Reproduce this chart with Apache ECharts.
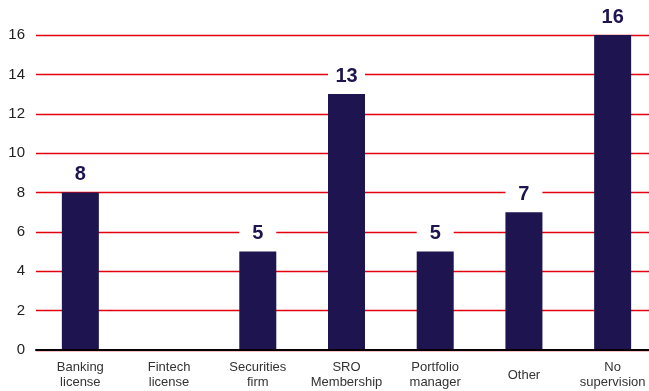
<!DOCTYPE html>
<html>
<head>
<meta charset="utf-8">
<script src="https://cdn.jsdelivr.net/npm/echarts@6/dist/echarts.min.js"></script>
<style>
  html, body { margin: 0; padding: 0; background: #fff; }
  #chart { width: 649px; height: 391px; }
</style>
</head>
<body>
<div id="chart"></div>
<script>
// Categories of supervision and the number of entities in each
const categories = ['Banking\nlicense', 'Fintech\nlicense', 'Securities\nfirm', 'SRO\nMembership', 'Portfolio\nmanager', 'Other', 'No\nsupervision'];
const counts = [8, 0, 5, 13, 5, 7, 16];
const yTicks = { min: 0, max: 16, interval: 2 };

const navy = '#1e1450';
const chart = echarts.init(document.getElementById('chart'), null, { renderer: 'canvas' });

chart.setOption({
  animation: false,
  backgroundColor: '#ffffff',
  grid: { left: 36, top: 35, width: 621, height: 315, containLabel: false, outerBoundsMode: 'none' },
  xAxis: {
    type: 'category',
    data: categories,
    axisLine: { show: true, lineStyle: { color: '#000', width: 2 } },
    axisTick: { show: false },
    axisLabel: {
      color: '#333',
      fontFamily: 'Liberation Sans, Arial, sans-serif',
      fontSize: 13,
      lineHeight: 15,
      verticalAlign: 'middle',
      margin: 25,
      interval: 0
    },
    z: 5
  },
  yAxis: {
    type: 'value',
    min: yTicks.min,
    max: yTicks.max,
    interval: yTicks.interval,
    axisLine: { show: false },
    axisTick: { show: false },
    axisLabel: {
      color: '#222',
      fontFamily: 'Liberation Sans, Arial, sans-serif',
      fontSize: 15,
      margin: 11,
      padding: [4, 0, 0, 0]
    },
    splitLine: { show: true, lineStyle: { color: '#e3000f', width: 1.3 } }
  },
  series: [{
    type: 'bar',
    data: counts,
    barWidth: 37,
    itemStyle: { color: navy },
    label: {
      show: true,
      position: 'top',
      distance: 6,
      formatter: p => (p.value === 0 ? '' : String(p.value)),
      color: navy,
      fontFamily: 'Liberation Sans, Arial, sans-serif',
      fontSize: 20,
      fontWeight: 'bold',
      backgroundColor: '#ffffff',
      width: 37,
      align: 'center',
      padding: [2, 0, 2, 0]
    }
  }]
});
</script>
</body>
</html>
